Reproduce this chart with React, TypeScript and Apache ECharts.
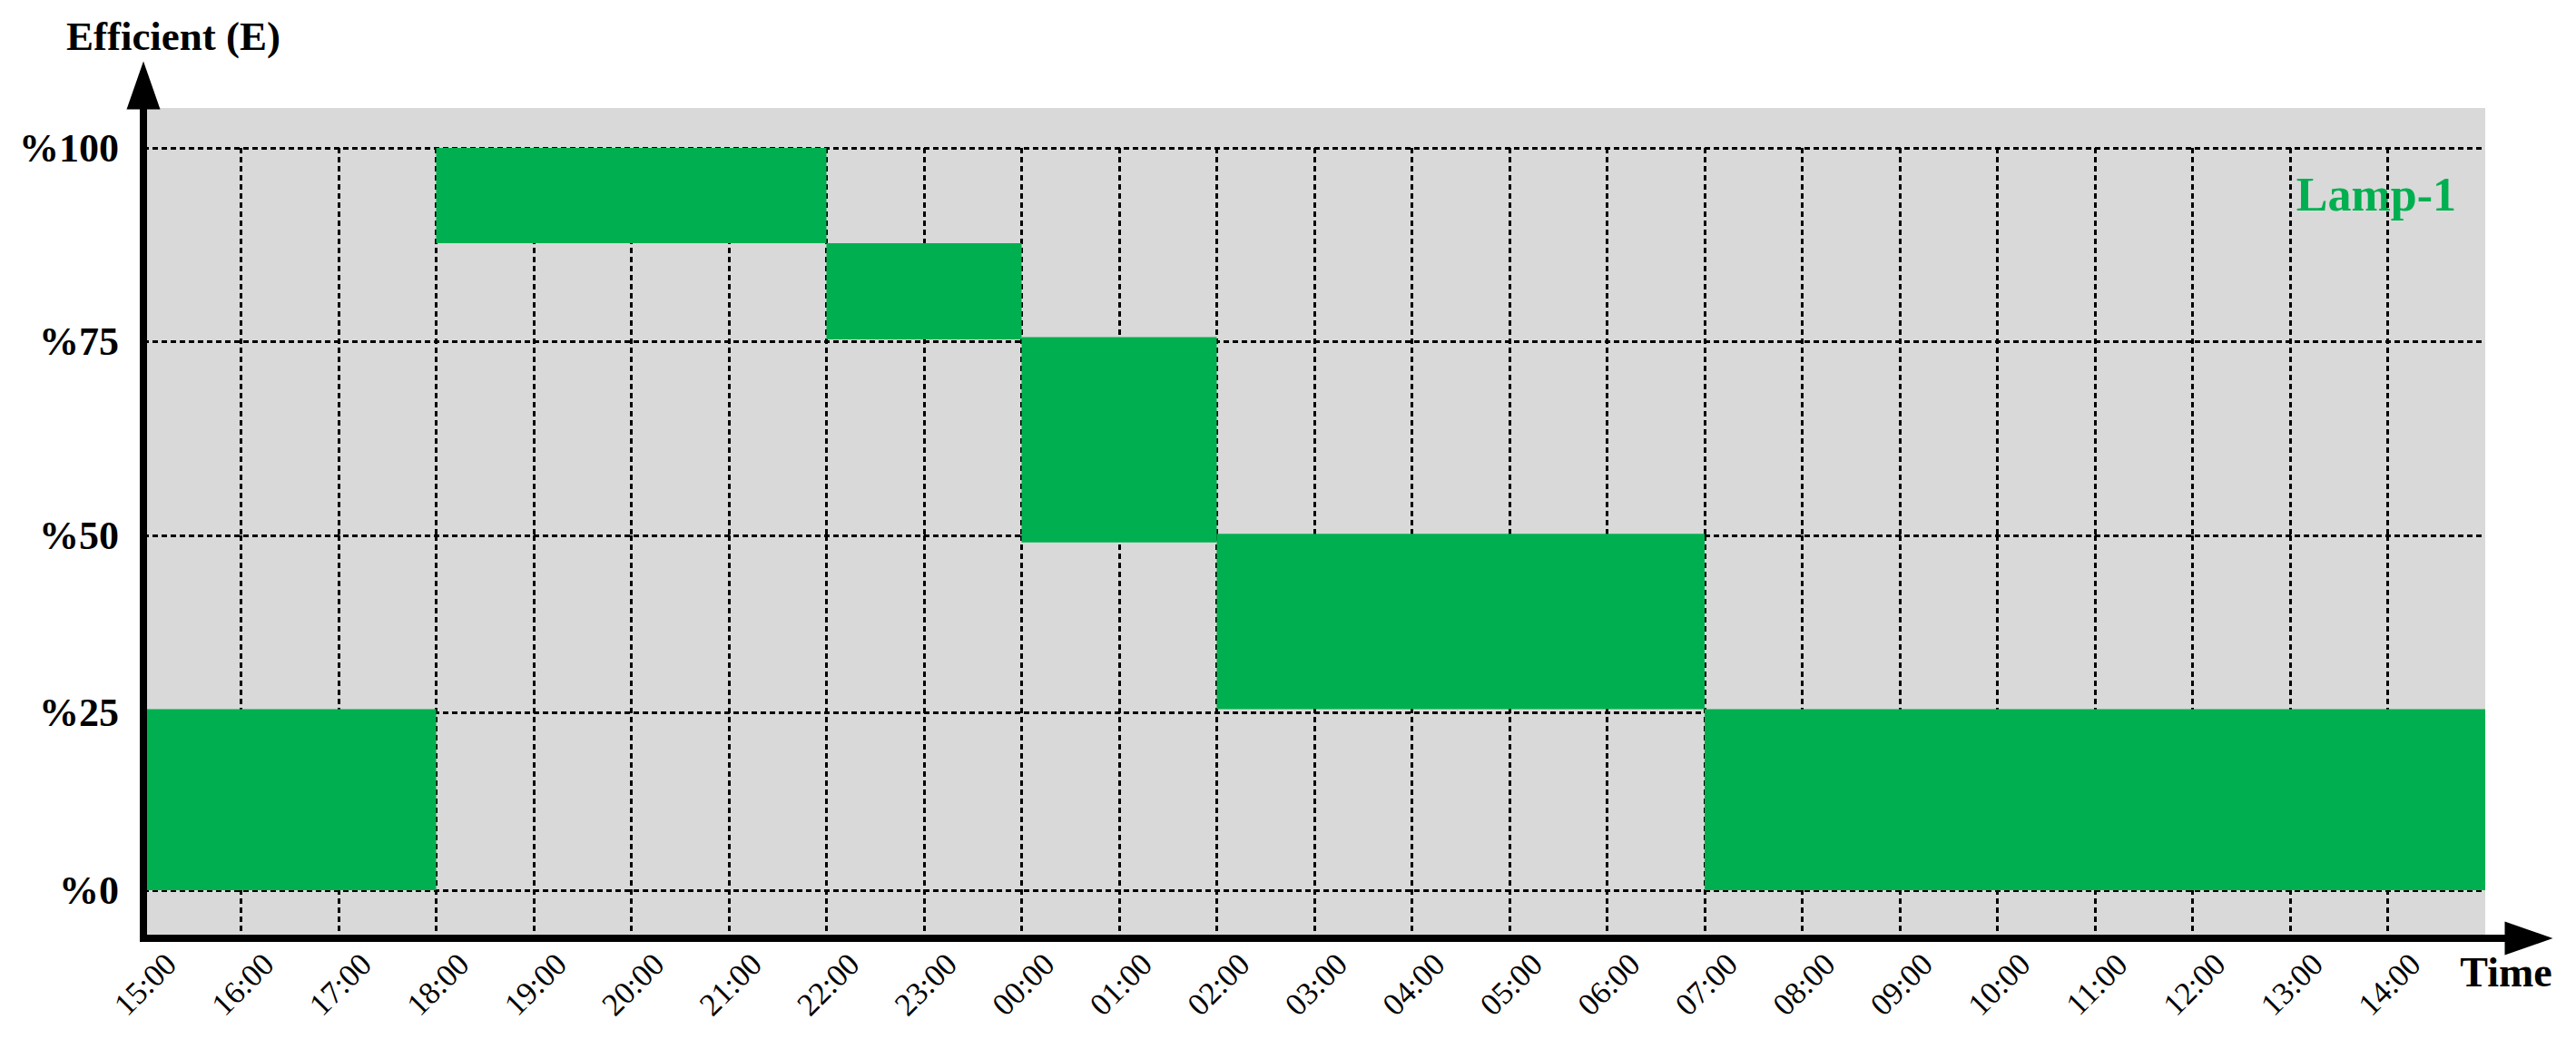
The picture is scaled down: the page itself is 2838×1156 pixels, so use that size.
import React, { useEffect, useRef } from 'react';
import * as echarts from 'echarts';

// ---- data ----
const timeLabels = ['15:00', '16:00', '17:00', '18:00', '19:00', '20:00', '21:00', '22:00', '23:00', '00:00', '01:00', '02:00',
  '03:00', '04:00', '05:00', '06:00', '07:00', '08:00', '09:00', '10:00', '11:00', '12:00', '13:00', '14:00'];
const yTickValues = [0, 25, 50, 75, 100];
const yTickLabels = ['%0', '%25', '%50', '%75', '%100'];
// blocks: hours after 15:00 (start / end) and efficiency range (low / high)
const blockStart = [0, 3, 7, 9, 11, 16];
const blockEnd = [3, 7, 9, 11, 16, 24];
const blockLow = [0, 87.7, 75.3, 49, 25.5, 0];
const blockHigh = [25.5, 100, 87.7, 75.6, 50.2, 25.5];
const seriesName = 'Lamp-1';

// ---- styles / layout ----
const GREEN = '#00B050';
const GRAY = '#D9D9D9';
const FONT = '"Liberation Serif", "Times New Roman", serif';
const W = 2838;
const LEFT = 158;
const AXIS_END_X = 2760;
const PLOT_END_X = 2738;
const TOP = 119;
const SPLIT_Y = 590;
const BOTTOM_Y = 1034;
const HOURS = 24;
const X_MAX = (HOURS * (AXIS_END_X - LEFT)) / (PLOT_END_X - LEFT);
const UPPER_MAX = 100 + (163 - TOP) / ((SPLIT_Y - 163) / 50);
const LOWER_MIN = -(BOTTOM_Y - 981) / ((981 - SPLIT_Y) / 50);

const blocks = blockStart.map((s, i) => [s, blockEnd[i], blockLow[i], blockHigh[i]]);

const renderBlock = (params: any, api: any) => {
  const cs = params.coordSys;
  const a = api.coord([api.value(0), api.value(3)]);
  const b = api.coord([api.value(1), api.value(2)]);
  const top = Math.max(a[1], cs.y);
  const bottom = Math.min(b[1], cs.y + cs.height);
  if (bottom <= top) return null;
  return {
    type: 'rect',
    shape: { x: a[0], y: top, width: b[0] - a[0], height: bottom - top },
    style: { fill: GREEN },
  };
};

const dash = { color: '#000', type: [6, 4], width: 3 };

function makeSeries(gi: number, lo: number, hi: number, hLines: number[]) {
  const vLines = [] as any[];
  for (let h = 1; h < HOURS; h++) {
    vLines.push([{ coord: [h, hi === 50 ? 50 : 100] }, { coord: [h, lo] }]);
  }
  const hl = hLines.map((v) => [{ coord: [0, v] }, { coord: [HOURS, v] }]);
  return {
    type: 'custom',
    name: seriesName,
    xAxisIndex: gi,
    yAxisIndex: gi,
    z: 3,
    encode: { x: [0, 1], y: [2, 3] },
    data: blocks,
    renderItem: renderBlock,
    silent: true,
    markArea: {
      silent: true,
      z: 1,
      itemStyle: { color: GRAY },
      data: [[{ coord: [0, lo] }, { coord: [HOURS, hi] }]],
    },
    markLine: {
      silent: true,
      z: 2,
      symbol: ['none', 'none'],
      label: { show: false },
      lineStyle: dash,
      data: [...hl, ...vLines],
    },
  };
}

const yLabel = (v: number) => {
  const i = yTickValues.indexOf(Math.round(v));
  return i >= 0 ? yTickLabels[i] : '';
};

export default function App() {
  const ref = useRef<HTMLDivElement>(null);
  useEffect(() => {
    if (!ref.current) return;
    const chart = echarts.init(ref.current, undefined, { renderer: 'svg' });
    const yAxisLabel = {
      fontFamily: FONT,
      fontSize: 44,
      fontWeight: 'bold',
      color: '#000',
      margin: 27,
      padding: [0, 0, 10, 0],
      formatter: yLabel,
    };
    chart.setOption({
      animation: false,
      backgroundColor: '#fff',
      grid: [
        { left: LEFT, right: W - AXIS_END_X, top: TOP, height: SPLIT_Y - TOP, containLabel: false, outerBoundsMode: 'none' },
        { left: LEFT, right: W - AXIS_END_X, top: SPLIT_Y, height: BOTTOM_Y - SPLIT_Y, containLabel: false, outerBoundsMode: 'none' },
      ],
      xAxis: [
        { gridIndex: 0, type: 'value', min: 0, max: X_MAX, show: false },
        {
          gridIndex: 1,
          type: 'value',
          min: 0,
          max: X_MAX,
          z: 10,
          axisLine: {
            show: true,
            onZero: false,
            symbol: ['none', 'triangle'],
            symbolSize: [37, 53],
            symbolOffset: [0, 26],
            lineStyle: { color: '#000', width: 8, cap: 'square' },
          },
          axisTick: { show: false },
          splitLine: { show: false },
          axisLabel: {
            customValues: timeLabels.map((_, i) => i),
            formatter: (v: number) => timeLabels[Math.round(v)] ?? '',
            rotate: 45,
            align: 'center',
            verticalAlign: 'middle',
            margin: 53,
            padding: [22, 0, 0, 6],
            fontFamily: FONT,
            fontSize: 35,
            color: '#000',
          },
        },
      ],
      yAxis: [
        {
          gridIndex: 0,
          type: 'value',
          min: 50,
          max: UPPER_MAX,
          z: 10,
          axisLine: {
            show: true,
            onZero: false,
            symbol: ['none', 'triangle'],
            symbolSize: [37, 53],
            symbolOffset: [0, 25],
            lineStyle: { color: '#000', width: 8 },
          },
          axisTick: { show: false },
          splitLine: { show: false },
          axisLabel: { ...yAxisLabel, customValues: yTickValues.filter((v) => v >= 50) },
        },
        {
          gridIndex: 1,
          type: 'value',
          min: LOWER_MIN,
          max: 50,
          z: 10,
          axisLine: { show: true, onZero: false, lineStyle: { color: '#000', width: 8, cap: 'square' } },
          axisTick: { show: false },
          splitLine: { show: false },
          axisLabel: { ...yAxisLabel, customValues: yTickValues.filter((v) => v < 50) },
        },
      ],
      graphic: [
        {
          type: 'text',
          x: 191,
          y: 40,
          z: 20,
          style: { text: 'Efficient (E)', font: `bold 45px ${FONT}`, fill: '#000', align: 'center', verticalAlign: 'middle' },
        },
        {
          type: 'text',
          x: 2761,
          y: 1071,
          z: 20,
          style: { text: 'Time', font: `bold 46px ${FONT}`, fill: '#000', align: 'center', verticalAlign: 'middle' },
        },
        {
          type: 'text',
          x: 2706,
          y: 214,
          z: 1.5,
          style: { text: seriesName, font: `bold 52px ${FONT}`, fill: GREEN, align: 'right', verticalAlign: 'middle' },
        },
      ],
      series: [
        makeSeries(0, 50, UPPER_MAX, [50, 75, 100]),
        makeSeries(1, LOWER_MIN, 50, [0, 25]),
      ],
    });
    return () => chart.dispose();
  }, []);
  return <div ref={ref} style={{ position: 'fixed', left: 0, top: 0, width: 2838, height: 1156 }} />;
}
